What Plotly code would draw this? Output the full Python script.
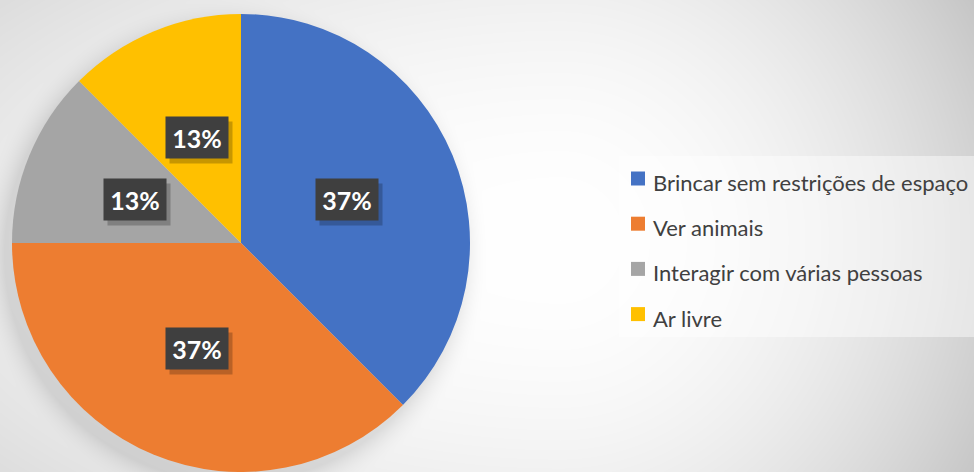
import math
import zlib
import struct
import base64
import numpy as np
import plotly.graph_objects as go

# ---------------- data ----------------
categories = ["Brincar sem restrições de espaço", "Ver animais",
              "Interagir com várias pessoas", "Ar livre"]
values = [3, 3, 1, 1]
label_texts = ["37%", "37%", "13%", "13%"]
colors = ["#4472C4", "#ED7D31", "#A5A5A5", "#FFC000"]

# ---------------- layout constants ----------------
W, H = 974, 472
R = 229                 # pie radius in px
CX, CY = 241, H - R     # pie centre in px (from top)
FONT = "Lato"


def png_uri(gray):
    h, w = gray.shape
    raw = b"".join(b"\x00" + gray[y].tobytes() for y in range(h))

    def chunk(tag, data):
        c = struct.pack(">I", len(data)) + tag + data
        return c + struct.pack(">I", zlib.crc32(tag + data) & 0xFFFFFFFF)

    png = (b"\x89PNG\r\n\x1a\n"
           + chunk(b"IHDR", struct.pack(">IIBBBBB", w, h, 8, 0, 0, 0, 0))
           + chunk(b"IDAT", zlib.compress(raw, 9))
           + chunk(b"IEND", b""))
    return "data:image/png;base64," + base64.b64encode(png).decode()


# background: soft radial light + pie shadow
yy, xx = np.mgrid[0:H, 0:W].astype(float)
gcx, gcy = 560.0, 240.0
dx = xx - gcx
dx = np.where(dx < 0, dx * 0.5, dx)
dy = yy - gcy
drop = 2.5e-4 * (dx ** 2 + dy ** 2)
scx, scy, srad = CX - 8, CY + 10, R
rs = np.sqrt((xx - scx) ** 2 + (yy - scy) ** 2)
t = np.clip(1 - (rs - srad) / 28.0, 0, 1) ** 2
drop = drop + 24 * t
bg = np.clip(255 - drop, 0, 255).astype(np.uint8)
bg_uri = png_uri(bg)

fig = go.Figure()
fig.add_trace(go.Pie(
    labels=categories,
    values=values,
    marker=dict(colors=colors, line=dict(width=0)),
    sort=False,
    direction="clockwise",
    rotation=0,
    textinfo="none",
    hoverinfo="label+percent",
    showlegend=False,
    domain=dict(x=[0, 2 * CX / W], y=[0, 2 * R / H]),
))

annotations = []
# data labels at half radius, mid-angle of each slice
total = sum(values)
cum = 0.0
for v, txt in zip(values, label_texts):
    mid = (cum + v / 2) / total * 2 * math.pi
    cum += v
    px = CX + 0.5 * R * math.sin(mid)
    py = CY - 0.5 * R * math.cos(mid)
    common = dict(x=px / W, y=1 - py / H, xref="paper", yref="paper",
                  showarrow=False, width=62, height=41, borderpad=0,
                  xanchor="center", yanchor="middle", align="center",
                  valign="middle")
    annotations.append(dict(text="", bgcolor="rgba(0,0,0,0.22)",
                            xshift=4, yshift=-5, **common))
    annotations.append(dict(text="<b>%s</b>" % txt, bgcolor="#3f3f3f",
                            font=dict(family=FONT, size=25, color="white"),
                            **common))

shapes = [dict(type="rect", xref="paper", yref="paper",
               x0=619 / W, x1=1, y0=1 - 337 / H, y1=1 - 156 / H,
               fillcolor="rgba(255,255,255,0.45)", line=dict(width=0),
               layer="below")]

# manual legend
for i, (cat, col) in enumerate(zip(categories, colors)):
    yc = 178.5 + i * 45.2
    shapes.append(dict(type="rect", xref="paper", yref="paper",
                       x0=631 / W, x1=645 / W,
                       y0=1 - (yc + 7) / H, y1=1 - (yc - 7) / H,
                       fillcolor=col, line=dict(width=0)))
    annotations.append(dict(text=cat, x=651 / W, y=1 - (yc + 4) / H,
                            xref="paper", yref="paper", showarrow=False,
                            xanchor="left", yanchor="middle",
                            font=dict(family=FONT, size=22, color="#404040")))

fig.update_layout(
    width=W, height=H,
    margin=dict(l=0, r=0, t=0, b=0),
    paper_bgcolor="#eeeeee",
    plot_bgcolor="rgba(0,0,0,0)",
    images=[dict(source=bg_uri, xref="paper", yref="paper", x=0, y=1,
                 sizex=1, sizey=1, xanchor="left", yanchor="top",
                 sizing="stretch", layer="below")],
    shapes=shapes,
    annotations=annotations,
    showlegend=False,
)

fig.write_html("out.html",
               config={"displayModeBar": False},
               post_script="document.body.style.margin='0';"
                           "document.body.style.overflow='hidden';")
